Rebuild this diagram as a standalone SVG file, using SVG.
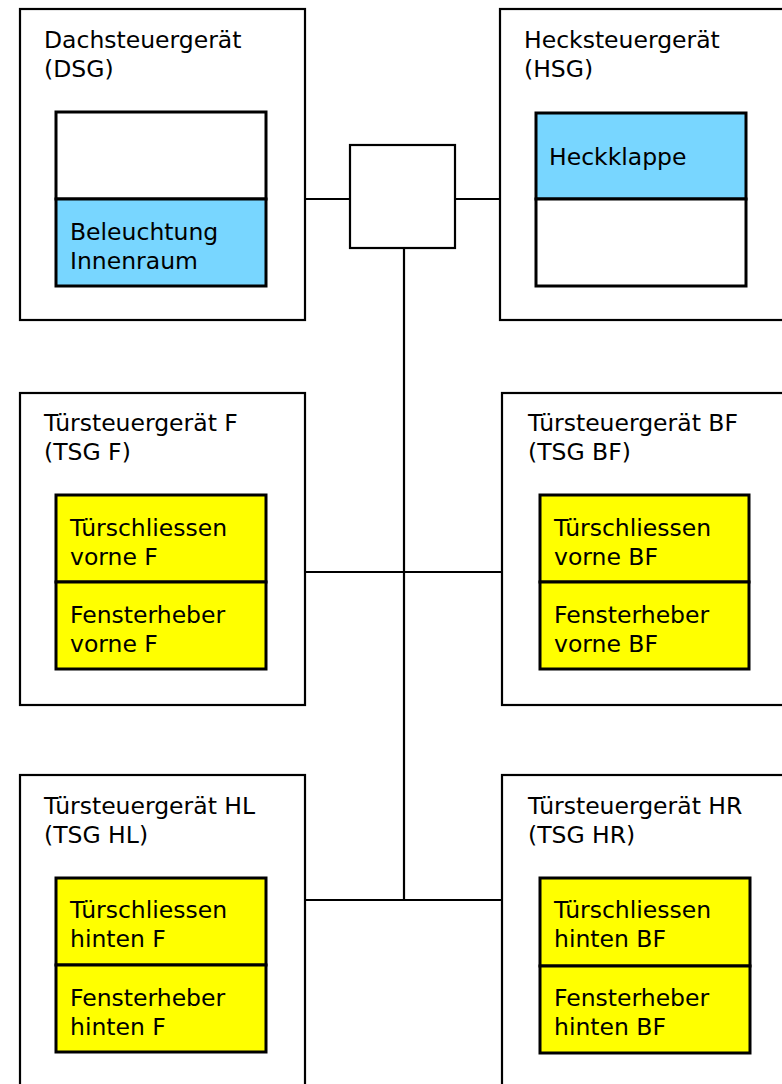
<svg xmlns="http://www.w3.org/2000/svg" width="782" height="1084" viewBox="0 0 782 1084">
<style>
.outer{fill:#fff;stroke:#000;stroke-width:2.2}
.inner{stroke:#000;stroke-width:3}
.blue{fill:#78D6FF}
.yellow{fill:#FFFF00}
.white{fill:#fff}
text{font-family:"DejaVu Sans",Verdana,sans-serif;font-size:23.5px;fill:#000}
.conn{stroke:#000;stroke-width:2.2;fill:none}
</style>
<rect width="782" height="1084" fill="#fff"/>
<g id="connectors">
<line class="conn" x1="305" y1="199" x2="350" y2="199"/>
<line class="conn" x1="455" y1="199" x2="500" y2="199"/>
<line class="conn" x1="404" y1="248" x2="404" y2="900"/>
<line class="conn" x1="305" y1="572" x2="502" y2="572"/>
<line class="conn" x1="305" y1="900" x2="502" y2="900"/>
</g>
<g id="hub">
<rect class="outer" x="350" y="145" width="105" height="103"/>
</g>
<g id="dsg">
<rect class="outer" x="20" y="9" width="285" height="311"/>
<text x="44" y="48">Dachsteuergerät</text>
<text x="44" y="77">(DSG)</text>
<rect class="inner white" x="56" y="112" width="210" height="87"/>
<rect class="inner blue" x="56" y="199" width="210" height="87"/>
<text x="70" y="240">Beleuchtung</text>
<text x="70" y="269">Innenraum</text>
</g>
<g id="hsg">
<rect class="outer" x="500" y="9" width="300" height="311"/>
<text x="524" y="48">Hecksteuergerät</text>
<text x="524" y="77">(HSG)</text>
<rect class="inner blue" x="536" y="113" width="210" height="86"/>
<rect class="inner white" x="536" y="199" width="210" height="87"/>
<text x="549" y="165">Heckklappe</text>
</g>
<g id="tsg-f">
<rect class="outer" x="20" y="393" width="285" height="312"/>
<text x="44" y="431">Türsteuergerät F</text>
<text x="44" y="460">(TSG F)</text>
<rect class="inner yellow" x="56" y="495" width="210" height="87"/>
<rect class="inner yellow" x="56" y="582" width="210" height="87"/>
<text x="70" y="536">Türschliessen</text>
<text x="70" y="565">vorne F</text>
<text x="70" y="623">Fensterheber</text>
<text x="70" y="652">vorne F</text>
</g>
<g id="tsg-bf">
<rect class="outer" x="502" y="393" width="300" height="312"/>
<text x="528" y="431">Türsteuergerät BF</text>
<text x="528" y="460">(TSG BF)</text>
<rect class="inner yellow" x="540" y="495" width="209" height="87"/>
<rect class="inner yellow" x="540" y="582" width="209" height="87"/>
<text x="554" y="536">Türschliessen</text>
<text x="554" y="565">vorne BF</text>
<text x="554" y="623">Fensterheber</text>
<text x="554" y="652">vorne BF</text>
</g>
<g id="tsg-hl">
<rect class="outer" x="20" y="775" width="285" height="330"/>
<text x="44" y="814">Türsteuergerät HL</text>
<text x="44" y="843">(TSG HL)</text>
<rect class="inner yellow" x="56" y="878" width="210" height="87"/>
<rect class="inner yellow" x="56" y="965" width="210" height="87"/>
<text x="70" y="918">Türschliessen</text>
<text x="70" y="947">hinten F</text>
<text x="70" y="1006">Fensterheber</text>
<text x="70" y="1035">hinten F</text>
</g>
<g id="tsg-hr">
<rect class="outer" x="502" y="775" width="300" height="330"/>
<text x="528" y="814">Türsteuergerät HR</text>
<text x="528" y="843">(TSG HR)</text>
<rect class="inner yellow" x="540" y="878" width="210" height="88"/>
<rect class="inner yellow" x="540" y="966" width="210" height="87"/>
<text x="554" y="918">Türschliessen</text>
<text x="554" y="947">hinten BF</text>
<text x="554" y="1006">Fensterheber</text>
<text x="554" y="1035">hinten BF</text>
</g>
</svg>
